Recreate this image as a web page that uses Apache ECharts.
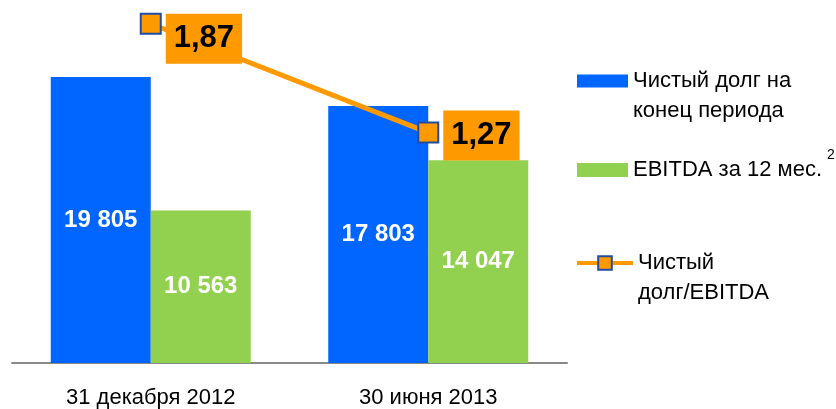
<!DOCTYPE html>
<html>
<head>
<meta charset="utf-8">
<script src="https://cdn.jsdelivr.net/npm/echarts@6/dist/echarts.min.js"></script>
<style>
  html, body { margin: 0; padding: 0; background: #fff; }
  #debt-chart { width: 836px; height: 409px; }
</style>
</head>
<body>
<div id="debt-chart"></div>
<script>
var categories = ["31 декабря 2012", "30 июня 2013"];
var netDebt = [19805, 17803];
var ebitda = [10563, 14047];
var debtToEbitda = [1.87, 1.27];

var FONT = "'Liberation Sans Narrow', 'Arial Narrow', 'Liberation Sans', sans-serif";

function fmtThousands(v) {
  return String(v).replace(/\B(?=(\d{3})+(?!\d))/g, " ");
}

var chart = echarts.init(document.getElementById("debt-chart"));

// подпись легенды: пустая первая строка, чтобы значок стоял у первой строки текста
var legendText = { fontFamily: FONT, fontSize: 22, color: "#000", lineHeight: 30 };

var option = {
  animation: false,
  textStyle: { fontFamily: FONT },
  grid: { left: 12, right: 269, top: 2, bottom: 45 },
  legend: [
    {
      orient: "vertical",
      left: 577,
      top: 36,
      padding: 0,
      itemWidth: 51,
      itemHeight: 13,
      icon: "rect",
      data: ["Чистый долг на конец периода"],
      formatter: function() {
        return "\nЧистый долг на\nконец периода";
      },
      textStyle: legendText
    },
    {
      orient: "vertical",
      left: 577,
      top: 148,
      padding: 0,
      itemWidth: 51,
      itemHeight: 14,
      icon: "rect",
      data: ["EBITDA за 12 мес."],
      formatter: function(name) {
        return "{m|" + name + "}{s|2}";
      },
      textStyle: {
        fontFamily: FONT,
        color: "#000",
        rich: {
          m: { fontFamily: FONT, fontSize: 22, lineHeight: 44, color: "#000" },
          s: { fontFamily: FONT, fontSize: 14, lineHeight: 14, verticalAlign: "top", padding: [0, 0, 0, 5], color: "#000" }
        }
      }
    },
    {
      orient: "vertical",
      left: 575,
      top: 218,
      padding: 0,
      itemWidth: 56,
      itemHeight: 17,
      data: ["Чистый долг/EBITDA"],
      formatter: function() {
        return "\nЧистый\nдолг/EBITDA";
      },
      lineStyle: { width: 4 },
      textStyle: legendText
    }
  ],
  xAxis: {
    type: "category",
    data: categories,
    axisTick: { show: false },
    axisLine: { lineStyle: { color: "#898989", width: 2 } },
    axisLabel: { color: "#000", fontFamily: FONT, fontSize: 22, margin: 24 }
  },
  yAxis: [
    { type: "value", min: 0, max: 25000, show: false, splitLine: { show: false } },
    { type: "value", min: 0, max: 1.99, show: false, splitLine: { show: false } }
  ],
  series: [
    {
      name: "Чистый долг на конец периода",
      type: "bar",
      data: netDebt,
      barWidth: 100,
      barGap: "0%",
      itemStyle: { color: "#0066FF" },
      label: {
        show: true,
        position: "inside",
        color: "#fff",
        fontFamily: FONT,
        fontWeight: "bold",
        fontSize: 24,
        formatter: function(p) { return fmtThousands(p.value); }
      }
    },
    {
      name: "EBITDA за 12 мес.",
      type: "bar",
      data: ebitda,
      barWidth: 100,
      itemStyle: { color: "#92D050" },
      label: {
        show: true,
        position: "inside",
        color: "#fff",
        fontFamily: FONT,
        fontWeight: "bold",
        fontSize: 24,
        formatter: function(p) { return fmtThousands(p.value); }
      }
    },
    {
      name: "Чистый долг/EBITDA",
      type: "line",
      yAxisIndex: 1,
      data: debtToEbitda.map(function(v, i) {
        // первая подпись сдвинута вниз, как на слайде
        return { value: v, label: { offset: i === 0 ? [0, 15] : [0, 3] } };
      }),
      symbol: "rect",
      symbolSize: 20,
      lineStyle: { color: "#FF9900", width: 5 },
      itemStyle: { color: "#FF9900", borderColor: "#1F4EA0", borderWidth: 2 },
      z: 5,
      label: {
        show: true,
        position: "right",
        distance: 4,
        backgroundColor: "#FF9900",
        padding: [9, 8],
        color: "#000",
        fontFamily: FONT,
        fontWeight: "bold",
        fontSize: 31,
        lineHeight: 32,
        formatter: function(p) { return p.value.toFixed(2).replace(".", ","); }
      }
    }
  ]
};

chart.setOption(option);
</script>
</body>
</html>
